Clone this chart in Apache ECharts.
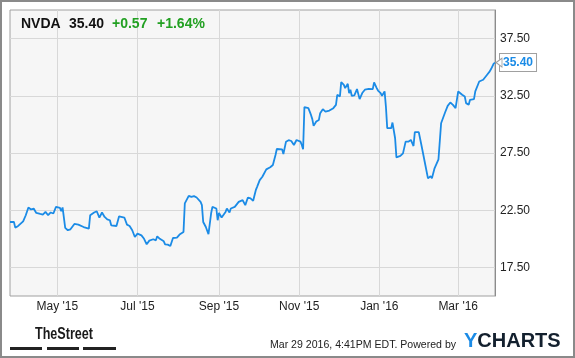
<!DOCTYPE html>
<html><head><meta charset="utf-8">
<script src="https://cdn.jsdelivr.net/npm/echarts@6/dist/echarts.min.js"></script>
<style>html,body{margin:0;padding:0;background:#fff}#c{width:575px;height:358px}</style>
</head><body><div id="c"></div>
<script>
// ---- data ----
const dates = ['2015-03-26','2015-03-29','2015-03-30','2015-04-01','2015-04-05','2015-04-07','2015-04-09','2015-04-11','2015-04-13','2015-04-14','2015-04-15','2015-04-18','2015-04-20','2015-04-22','2015-04-24','2015-04-26','2015-04-28','2015-04-30','2015-05-03','2015-05-04','2015-05-05','2015-05-07','2015-05-09','2015-05-11','2015-05-14','2015-05-17','2015-05-21','2015-05-25','2015-05-26','2015-05-29','2015-05-31','2015-06-02','2015-06-04','2015-06-06','2015-06-08','2015-06-10','2015-06-11','2015-06-15','2015-06-17','2015-06-21','2015-06-23','2015-06-25','2015-06-27','2015-06-29','2015-07-01','2015-07-04','2015-07-06','2015-07-08','2015-07-10','2015-07-13','2015-07-15','2015-07-16','2015-07-18','2015-07-21','2015-07-22','2015-07-24','2015-07-26','2015-07-28','2015-07-31','2015-08-02','2015-08-05','2015-08-06','2015-08-09','2015-08-11','2015-08-13','2015-08-15','2015-08-18','2015-08-19','2015-08-20','2015-08-22','2015-08-24','2015-08-26','2015-08-27','2015-08-30','2015-08-31','2015-09-01','2015-09-03','2015-09-06','2015-09-07','2015-09-09','2015-09-10','2015-09-13','2015-09-16','2015-09-19','2015-09-21','2015-09-23','2015-09-25','2015-09-27','2015-09-29','2015-09-30','2015-10-01','2015-10-02','2015-10-04','2015-10-07','2015-10-10','2015-10-12','2015-10-14','2015-10-15','2015-10-19','2015-10-20','2015-10-22','2015-10-24','2015-10-26','2015-10-27','2015-10-28','2015-10-30','2015-10-31','2015-11-02','2015-11-03','2015-11-04','2015-11-05','2015-11-08','2015-11-10','2015-11-11','2015-11-12','2015-11-14','2015-11-16','2015-11-17','2015-11-19','2015-11-21','2015-11-22','2015-11-24','2015-11-27','2015-11-29','2015-11-30','2015-12-02','2015-12-03','2015-12-05','2015-12-06','2015-12-08','2015-12-09','2015-12-10','2015-12-11','2015-12-13','2015-12-15','2015-12-17','2015-12-19','2015-12-21','2015-12-24','2015-12-27','2015-12-28','2015-12-30','2015-12-31','2016-01-02','2016-01-03','2016-01-05','2016-01-06','2016-01-07','2016-01-10','2016-01-11','2016-01-13','2016-01-14','2016-01-17','2016-01-19','2016-01-21','2016-01-23','2016-01-25','2016-01-27','2016-01-28','2016-01-31','2016-02-02','2016-02-03','2016-02-05','2016-02-07','2016-02-09','2016-02-10','2016-02-12','2016-02-15','2016-02-17','2016-02-20','2016-02-22','2016-02-24','2016-02-26','2016-02-28','2016-03-01','2016-03-04','2016-03-06','2016-03-07','2016-03-09','2016-03-10','2016-03-13','2016-03-14','2016-03-15','2016-03-17','2016-03-20','2016-03-21','2016-03-23','2016-03-25','2016-03-26','2016-03-28','2016-03-29'];
const prices = [21.47,21.47,20.98,21.10,21.53,22.06,22.74,22.56,22.65,22.65,22.26,22.17,22.12,22.35,22.06,22.30,22.21,22.79,22.70,22.41,22.74,20.95,20.75,20.83,21.30,21.24,21.03,20.89,22.06,22.30,22.41,21.85,22.30,21.91,21.70,21.62,21.18,21.12,21.97,21.86,21.24,21.12,20.75,20.16,20.45,20.30,20.00,19.52,19.84,19.96,19.87,20.22,20.00,19.78,19.52,19.49,19.37,20.07,20.10,20.37,20.60,23.09,23.75,23.66,23.73,23.61,23.23,22.94,21.47,21.03,20.40,22.21,22.79,22.65,21.62,22.26,21.86,22.35,22.65,22.30,22.65,22.79,23.23,23.38,22.94,23.61,23.53,23.32,24.25,24.54,24.40,25.13,25.42,26.07,26.25,26.45,27.32,27.85,27.82,27.41,28.49,28.62,28.55,28.58,28.20,28.64,28.73,28.49,28.20,27.82,31.51,31.42,30.83,30.46,29.87,30.25,30.39,30.98,31.33,31.12,30.98,31.21,31.42,31.71,32.59,32.44,33.70,33.46,33.17,33.55,32.74,33.03,32.50,32.53,33.09,32.21,32.74,33.03,33.11,33.09,33.67,33.17,32.96,32.74,32.50,32.88,31.56,29.67,29.67,30.16,28.79,27.12,27.24,27.47,28.49,28.49,28.64,28.11,29.32,29.32,28.20,28.20,26.45,25.28,25.48,25.28,26.16,26.95,30.10,31.04,31.62,31.91,31.71,31.42,32.88,32.59,32.44,31.86,31.71,32.15,32.21,32.88,32.79,33.75,33.90,34.05,34.34,34.63,34.84,35.31,35.40];
const yTickLabels = ['17.50','22.50','27.50','32.50','37.50'];
const xTickLabels = ["May '15","Jul '15","Sep '15","Nov '15","Jan '16","Mar '16"];
const axisStart = '2015-03-26';
const axisEnd = '2016-03-29';
const ticker = 'NVDA';
const lastPrice = '35.40';
const change = '+0.57';
const changePct = '+1.64%';
const stamp = 'Mar 29 2016, 4:41PM EDT. Powered by';

// ---- build calendar category axis ----
const MONTHS = ['Jan','Feb','Mar','Apr','May','Jun','Jul','Aug','Sep','Oct','Nov','Dec'];
const pad = n => (n < 10 ? '0' : '') + n;
const days = [];
for (let t = Date.parse(axisStart + 'T00:00:00Z'); t <= Date.parse(axisEnd + 'T00:00:00Z'); t += 86400000) {
  const d = new Date(t);
  days.push(d.getUTCFullYear() + '-' + pad(d.getUTCMonth() + 1) + '-' + pad(d.getUTCDate()));
}
function monthLabel(s) {
  const [y, m] = s.split('-');
  return MONTHS[+m - 1] + " '" + y.slice(2);
}
function isTick(idx, s) {
  const v = s || days[idx];
  return v.slice(8) === '01' && xTickLabels.includes(monthLabel(v));
}
const seriesData = dates.map((d, i) => [days.indexOf(d), prices[i]]);

const FONT = "'Liberation Sans', Arial, sans-serif";
const BLUE = '#1b8be6';
const GREEN = '#22a022';

const chart = echarts.init(document.getElementById('c'), null, {renderer: 'canvas'});
chart.setOption({
  animation: false,
  backgroundColor: '#ffffff',
  textStyle: {fontFamily: FONT},
  grid: {left: 10, right: 80, top: 10, bottom: 62, show: true, backgroundColor: '#f6f6f6', borderColor: '#a0a0a0', borderWidth: 1},
  xAxis: {
    type: 'category', data: days, boundaryGap: false,
    axisLine: {show: false}, axisTick: {show: false},
    axisLabel: {interval: isTick, formatter: v => monthLabel(v), color: '#222', fontSize: 12, margin: 5, fontFamily: FONT},
    splitLine: {show: true, interval: isTick, lineStyle: {color: '#d8d8d8', width: 1}}
  },
  yAxis: {
    type: 'value', position: 'right', min: 15, max: 40, interval: 2.5,
    axisLine: {show: true, lineStyle: {color: '#8c8c8c'}}, axisTick: {show: false},
    axisLabel: {formatter: v => (yTickLabels.includes(v.toFixed(2)) ? v.toFixed(2) : ''), color: '#222', fontSize: 12, margin: 5, fontFamily: FONT},
    splitLine: {show: true, lineStyle: {color: ['transparent', '#d8d8d8'], width: 1}}
  },
  series: [{
    type: 'line', data: seriesData, showSymbol: false, symbol: 'none',
    lineStyle: {color: BLUE, width: 1.8}, itemStyle: {color: BLUE},
    endLabel: {
      show: true, formatter: p => p.value[1].toFixed(2), color: BLUE, fontWeight: 'bold', fontSize: 12, fontFamily: FONT,
      backgroundColor: '#fff', borderColor: '#a0a0a0', borderWidth: 1, padding: [3, 3, 2, 3], distance: 5
    },
    markPoint: {
      silent: true, symbol: 'triangle', symbolRotate: 90, symbolSize: [9, 6], symbolOffset: [4, 0],
      itemStyle: {color: '#fff', borderColor: '#a0a0a0', borderWidth: 1}, label: {show: false},
      data: [{coord: seriesData[seriesData.length - 1]}]
    }
  }],
  graphic: [
    {type: 'rect', silent: true, z: 100, shape: {x: 1, y: 1, width: 573, height: 356}, style: {fill: null, stroke: '#8a8a8a', lineWidth: 2}},
    {type: 'text', z: 50, left: 21, top: 17, style: {text: ticker, font: 'bold 14px ' + FONT, fill: '#111'}},
    {type: 'text', z: 50, left: 69, top: 17, style: {text: lastPrice, font: 'bold 14px ' + FONT, fill: '#111'}},
    {type: 'text', z: 50, left: 112, top: 17, style: {text: change, font: 'bold 14px ' + FONT, fill: GREEN}},
    {type: 'text', z: 50, left: 157, top: 17, style: {text: changePct, font: 'bold 14px ' + FONT, fill: GREEN}},
    {type: 'text', z: 50, x: 35, y: 326, scaleX: 0.74, style: {text: 'TheStreet', font: 'bold 17px ' + FONT, fill: '#1a1a1a'}},
    {type: 'rect', z: 50, shape: {x: 10, y: 347, width: 32, height: 3}, style: {fill: '#222'}},
    {type: 'rect', z: 50, shape: {x: 47, y: 347, width: 32, height: 3}, style: {fill: '#222'}},
    {type: 'rect', z: 50, shape: {x: 83, y: 347, width: 33, height: 3}, style: {fill: '#222'}},
    {type: 'text', z: 50, x: 270, y: 339, scaleX: 0.96, style: {text: stamp, font: '11px ' + FONT, fill: '#222'}},
    {type: 'text', z: 50, left: 464, top: 331, style: {text: '{y|Y}{c|CHARTS}', rich: {y: {font: 'bold 20px ' + FONT, fill: BLUE}, c: {font: 'bold 20px ' + FONT, fill: '#13202e'}}}}
  ]
});
</script></body></html>
